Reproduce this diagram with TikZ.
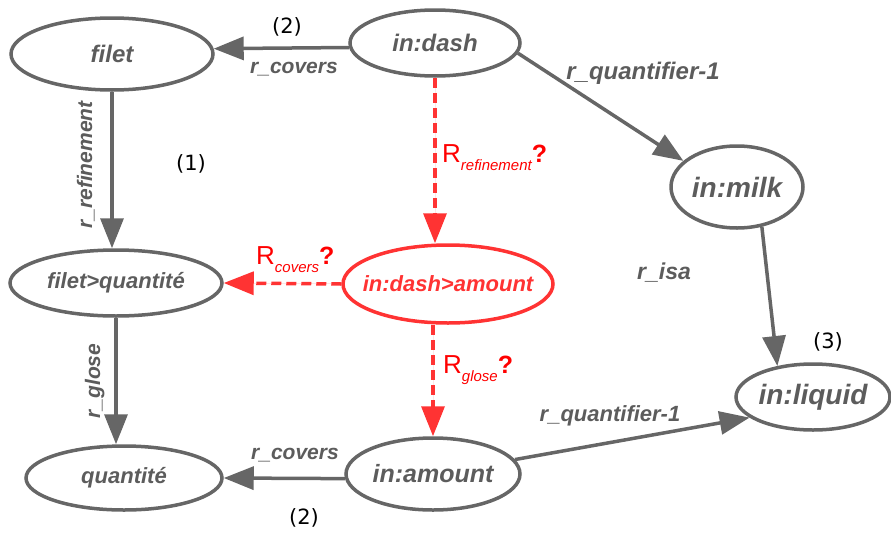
\documentclass[tikz,border=0pt]{standalone}
\usepackage{fontspec}
\setmainfont{Liberation Sans}
\newfontfamily\numfont{DejaVu Sans}
\usetikzlibrary{arrows.meta,shapes.geometric,positioning}
\definecolor{relgray}{HTML}{666666}
\definecolor{txtgray}{HTML}{5C5C5C}
\definecolor{askred}{HTML}{FF3333}
\tikzset{every picture/.style={
  >={Triangle[length=30pt,width=23pt]}  % Big filled heads.
  }
}
\newcommand{\fsz}[1]{\fontsize{#1}{#1}\selectfont}
\newcommand{\cname}[1]{\makebox[0pt]{#1}}   % Keeps the ellipse size fixed.
\newcommand{\askrel}[1]{{\fsz{26pt}R}\raisebox{-8pt}{\fsz{15pt}\itshape #1}%
  {\fsz{25pt}\textbf{?}}}

\begin{document}
\begin{tikzpicture}[x=1pt,y=-1pt,
    cpt/.style={
      ellipse,
      draw=relgray,
      line width=3.5pt,
      text=txtgray,
      font=\bfseries\itshape\fsz{24pt},
      inner sep=0pt
    },
    ask/.style={cpt,draw=askred,text=askred},
    rel/.style={->,draw=relgray,fill=relgray,line width=3.5pt},
    qrel/.style={->,draw=askred,fill=askred,line width=3.5pt,
      dash pattern=on 10pt off 5pt},
    lbl/.style={text=txtgray,font=\bfseries\itshape\fsz{21pt},
      inner sep=0pt,anchor=base},
    num/.style={font=\numfont\fsz{21pt},inner sep=0pt,anchor=base},
    asklbl/.style={text=red,inner sep=0pt,anchor=base west}
  ]
  \useasboundingbox (0,0) rectangle (891,533);

  % The concepts on the left: filet and its refinement.
  \node[cpt,minimum width=202pt,minimum height=72pt] (filet) at (112,54)
    {\cname{filet}};
  \node[cpt,minimum width=212pt,minimum height=66pt,font=\bfseries\itshape\fsz{22pt}]
    (fq) at (116,283) {\cname{filet>quantité}};
  \node[cpt,minimum width=196pt,minimum height=64pt,font=\bfseries\itshape\fsz{22pt}]
    (quant) at (124,478) {\cname{quantité}};

  % The concepts in the middle.
  \node[cpt,minimum width=170pt,minimum height=66pt] (dash) at (435,43)
    {\cname{in:dash}};
  \node[ask,minimum width=210pt,minimum height=78pt,font=\bfseries\itshape\fsz{22pt}]
    (dam) at (448,284) {\cname{in:dash>amount}};
  \node[cpt,minimum width=174pt,minimum height=72pt,font=\bfseries\itshape\fsz{25pt}]
    (amount) at (433,474) {\cname{in:amount}};

  % The concepts on the right.
  \node[cpt,minimum width=132pt,minimum height=82pt,font=\bfseries\itshape\fsz{28pt}]
    (milk) at (737,187) {\cname{in:milk}};
  \node[cpt,minimum width=154pt,minimum height=66pt,font=\bfseries\itshape\fsz{28pt}]
    (liquid) at (813,397) {\cname{in:liquid}};

  % Known relations.
  \draw[rel] (dash.183) -- (filet.3);
  \draw[rel] (filet.south) -- (filet.south |- fq.north);
  \draw[rel] (fq.south) -- (fq.south |- quant.north);
  \draw[rel] (amount.183) -- (quant.east);
  \draw[rel] (dash.-7) -- (milk.154);
  \draw[rel] (amount.10) -- (liquid.198);
  \draw[rel] (milk.302) -- (liquid.139);

  % Relations still to be found.
  \draw[qrel] (dash.south) -- (dash.south |- dam.north);
  \draw[qrel] (dam.west) -- (fq.east);
  \draw[qrel] (amount.north |- dam.south) -- (amount.north);

  % Relation labels.
  \node[lbl] (cov1) at (294,73) {r\_covers};
  \node[lbl] (cov2) at (295,459) {r\_covers};
  \node[lbl,rotate=90] (refi) at (92,165) {r\_refinement};
  \node[lbl,rotate=90] (glose) at (100,381) {r\_glose};
  \node[lbl,font=\bfseries\itshape\fsz{24pt}] (quf1) at (643,79) {r\_quantifier-1};
  \node[lbl,font=\bfseries\itshape\fsz{22pt}] (quf2) at (610,421) {r\_quantifier-1};
  \node[lbl,font=\bfseries\itshape\fsz{23pt}] (isa) at (664,279) {r\_isa};

  \node[asklbl] (askref) at (442,162) {\askrel{refinement}};
  \node[asklbl] (askcov) at (256,264) {\askrel{covers}};
  \node[asklbl] (askglo) at (443,373) {\askrel{glose}};

  % Step numbers.
  \node[num] (n1) at (191,170) {(1)};
  \node[num] (n2a) at (287,33) {(2)};
  \node[num] (n2b) at (304,524) {(2)};
  \node[num] (n3) at (828,348) {(3)};
\end{tikzpicture}
\end{document}
